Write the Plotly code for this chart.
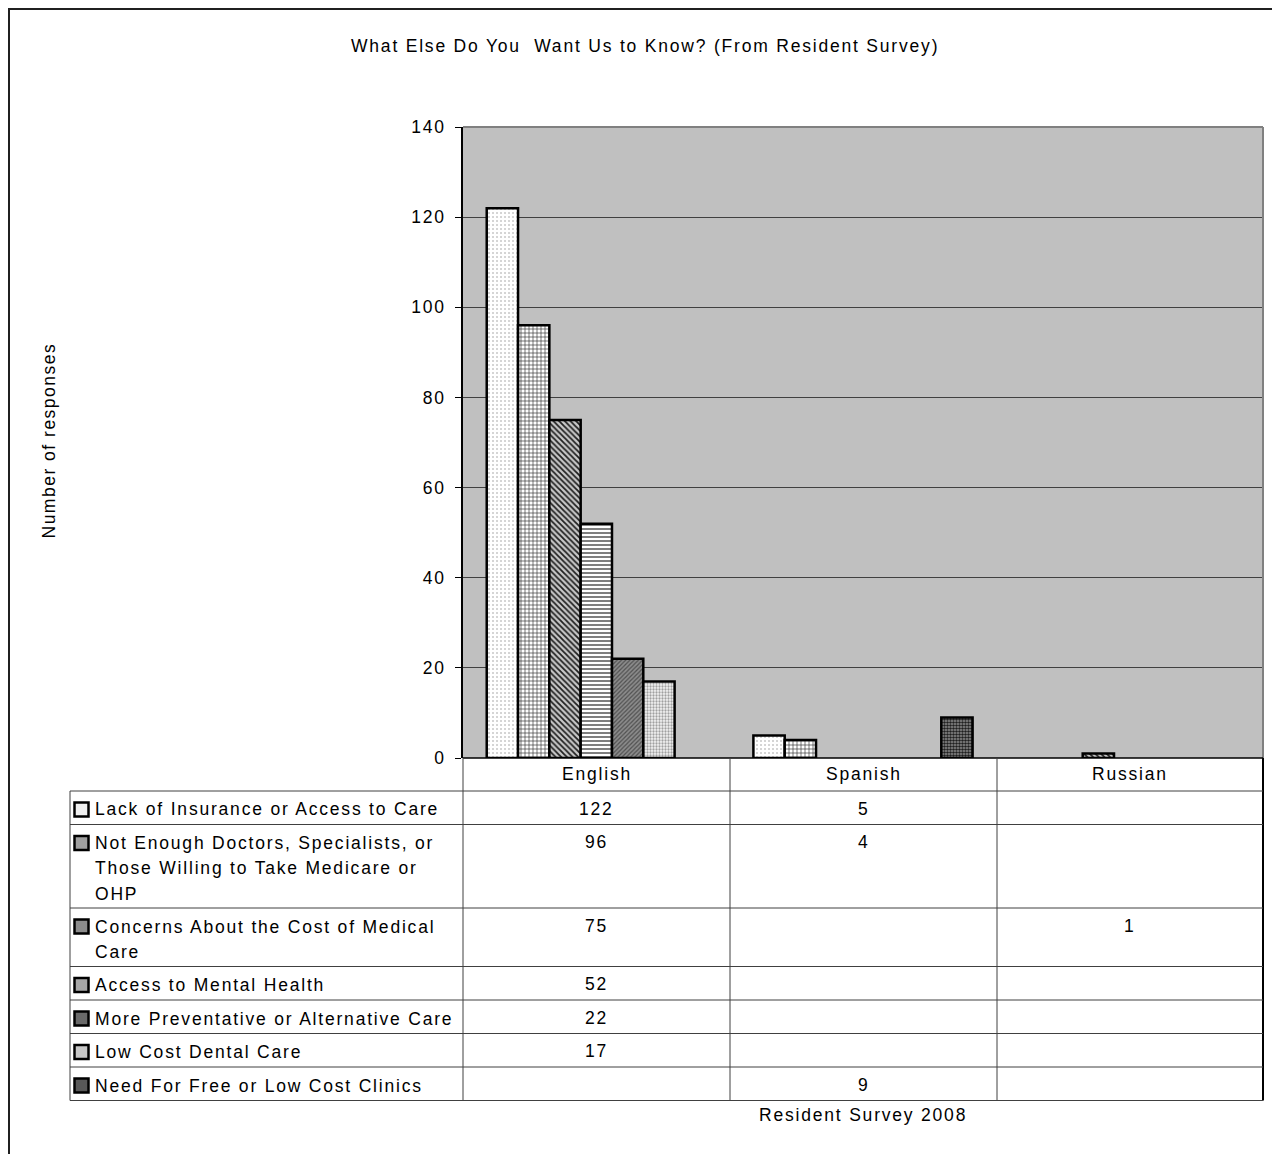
import plotly.graph_objects as go

# ---------------- data ----------------
languages = ["English", "Spanish", "Russian"]

series_names = [
    "Lack of Insurance or Access to Care",
    "Not Enough Doctors, Specialists, or Those Willing to Take Medicare or OHP",
    "Concerns About the Cost of Medical Care",
    "Access to Mental Health",
    "More Preventative or Alternative Care",
    "Low Cost Dental Care",
    "Need For Free or Low Cost Clinics",
]
# wrapped display lines of the table labels
label_lines = [
    ["Lack of Insurance or Access to Care"],
    ["Not Enough Doctors, Specialists, or", "Those Willing to Take Medicare or", "OHP"],
    ["Concerns About the Cost of Medical", "Care"],
    ["Access to Mental Health"],
    ["More Preventative or Alternative Care"],
    ["Low Cost Dental Care"],
    ["Need For Free or Low Cost Clinics"],
]

lack_insurance = [122, 5, None]
not_enough_doctors = [96, 4, None]
cost_concerns = [75, None, 1]
mental_health = [52, None, None]
preventative_care = [22, None, None]
dental_care = [17, None, None]
free_clinics = [None, 9, None]
series_values = [lack_insurance, not_enough_doctors, cost_concerns, mental_health,
                 preventative_care, dental_care, free_clinics]

y_ticks = [0, 20, 40, 60, 80, 100, 120, 140]

title_text = "What Else Do You  Want Us to Know? (From Resident Survey)"
y_title = "Number of responses"
x_title = "Resident Survey 2008"

# ---------------- styles ----------------
FONT = "Liberation Sans, Arial, sans-serif"
FS = 17.5
SP = 1.8
patterns = [
    dict(shape=".", fgcolor="#c8c8c8", bgcolor="white", size=4, solidity=0.2),
    dict(shape="+", fgcolor="#303030", bgcolor="white", size=4, solidity=0.3),
    dict(shape="\\", fgcolor="#202020", bgcolor="#c8c8c8", size=4, solidity=0.45),
    dict(shape="-", fgcolor="#707070", bgcolor="white", size=4, solidity=0.45),
    dict(shape="/", fgcolor="#505050", bgcolor="#8c8c8c", size=3, solidity=0.4),
    dict(shape=".", fgcolor="#a0a0a0", bgcolor="#f4f4f4", size=3, solidity=0.45),
    dict(shape=".", fgcolor="#202020", bgcolor="#909090", size=3, solidity=0.55),
]
marker_fill = ["#f0f0f0", "#a0a0a0", "#8c8c8c", "#a8a8a8", "#6a6a6a", "#c8c8c8", "#585858"]

OFF = 8  # page margin of the html body
W, H = 1280 - OFF, 1154 - OFF
L, R, T, B = 463, 1263, 127, 758  # plot area in page pixels


def px(x):
    return (x - L) / (R - L)


def py(y):
    return (B - y) / (B - T)


def ls(t, s=SP):
    return f'<span style="letter-spacing:{s}px">{t}</span>'


fig = go.Figure()
for name, vals, pat in zip(series_names, series_values, patterns):
    fig.add_trace(go.Bar(
        x=languages, y=vals, name=name,
        marker=dict(color=pat["bgcolor"], line=dict(color="black", width=2.5),
                    pattern=dict(fillmode="replace", **pat)),
    ))

shapes = []
ann = []


def line(x0, y0, x1, y1, color="#404040", width=1):
    shapes.append(dict(type="line", xref="paper", yref="paper",
                       x0=px(x0), y0=py(y0), x1=px(x1), y1=py(y1),
                       line=dict(color=color, width=width)))


def text(x, y, t, size=FS, xanchor="center", angle=0, spacing=SP):
    ann.append(dict(xref="paper", yref="paper", x=px(x), y=py(y), text=ls(t, spacing),
                    showarrow=False, xanchor=xanchor, yanchor="middle", textangle=angle,
                    font=dict(family=FONT, size=size, color="black")))


# outer border
shapes.append(dict(type="rect", xref="paper", yref="paper",
                   x0=px(9), y0=py(1170), x1=px(1295), y1=py(9),
                   line=dict(color="#202020", width=2), fillcolor="rgba(0,0,0,0)", layer="below"))

# plot area top/right border
line(L, T, R, T, color="#808080", width=2)
line(R, T, R, B, color="#808080", width=2)

# table geometry
col_edges = [L, 730, 997, R]
row_tops = [791]
for lines in label_lines:
    row_tops.append(row_tops[-1] + 33.5 + 25 * (len(lines) - 1))
table_bottom = row_tops[-1]

line(L, B, R, B, color="black", width=1.5)
for xe in col_edges[1:-1]:
    line(xe, B, xe, table_bottom)
line(R, B, R, table_bottom, color="black", width=2)
line(L, B, L, table_bottom)
line(70, row_tops[0], 70, table_bottom)
for yt in row_tops:
    line(70, yt, R, yt)

# header labels
for i, lang in enumerate(languages):
    cx = (col_edges[i] + col_edges[i + 1]) / 2
    text(cx, 774, lang)

# rows
for r, (lines, vals) in enumerate(zip(label_lines, series_values)):
    top = row_tops[r]
    c0 = top + 18.5
    shapes.append(dict(type="rect", xref="paper", yref="paper",
                       x0=px(74.5), x1=px(88.5), y0=py(c0 - 7), y1=py(c0 + 7),
                       line=dict(color="black", width=2.5), fillcolor=marker_fill[r]))
    for k, ln in enumerate(lines):
        text(93, c0 + 25.5 * k, ln, xanchor="left")
    for i, v in enumerate(vals):
        if v is not None:
            cx = (col_edges[i] + col_edges[i + 1]) / 2
            text(cx, c0 - 1, str(v))

# titles
text(645, 46, title_text)
text((L + R) / 2, 1115, x_title)
text(48, (T + B) / 2 - 2, y_title, angle=-90, spacing=1.5)

fig.update_layout(
    width=W, height=H,
    margin=dict(l=L - OFF, r=W - (R - OFF), t=T - OFF, b=H - (B - OFF), pad=0),
    paper_bgcolor="white", plot_bgcolor="#c0c0c0",
    barmode="group", bargap=0.178, bargroupgap=0,
    showlegend=False,
    font=dict(family=FONT, size=FS, color="black"),
    xaxis=dict(showticklabels=False, ticks="", showline=False, showgrid=False, zeroline=False),
    yaxis=dict(range=[0, 140], tickvals=y_ticks, ticktext=[ls(str(t)) for t in y_ticks],
               ticks="outside", ticklen=6, tickcolor="black", tickwidth=1,
               showline=True, linecolor="black", linewidth=1.5,
               showgrid=True, gridcolor="#404040", gridwidth=1, zeroline=False,
               tickfont=dict(family=FONT, size=FS, color="black"), ticklabelstandoff=6),
    shapes=shapes, annotations=ann,
)

fig.write_html("out.html")
